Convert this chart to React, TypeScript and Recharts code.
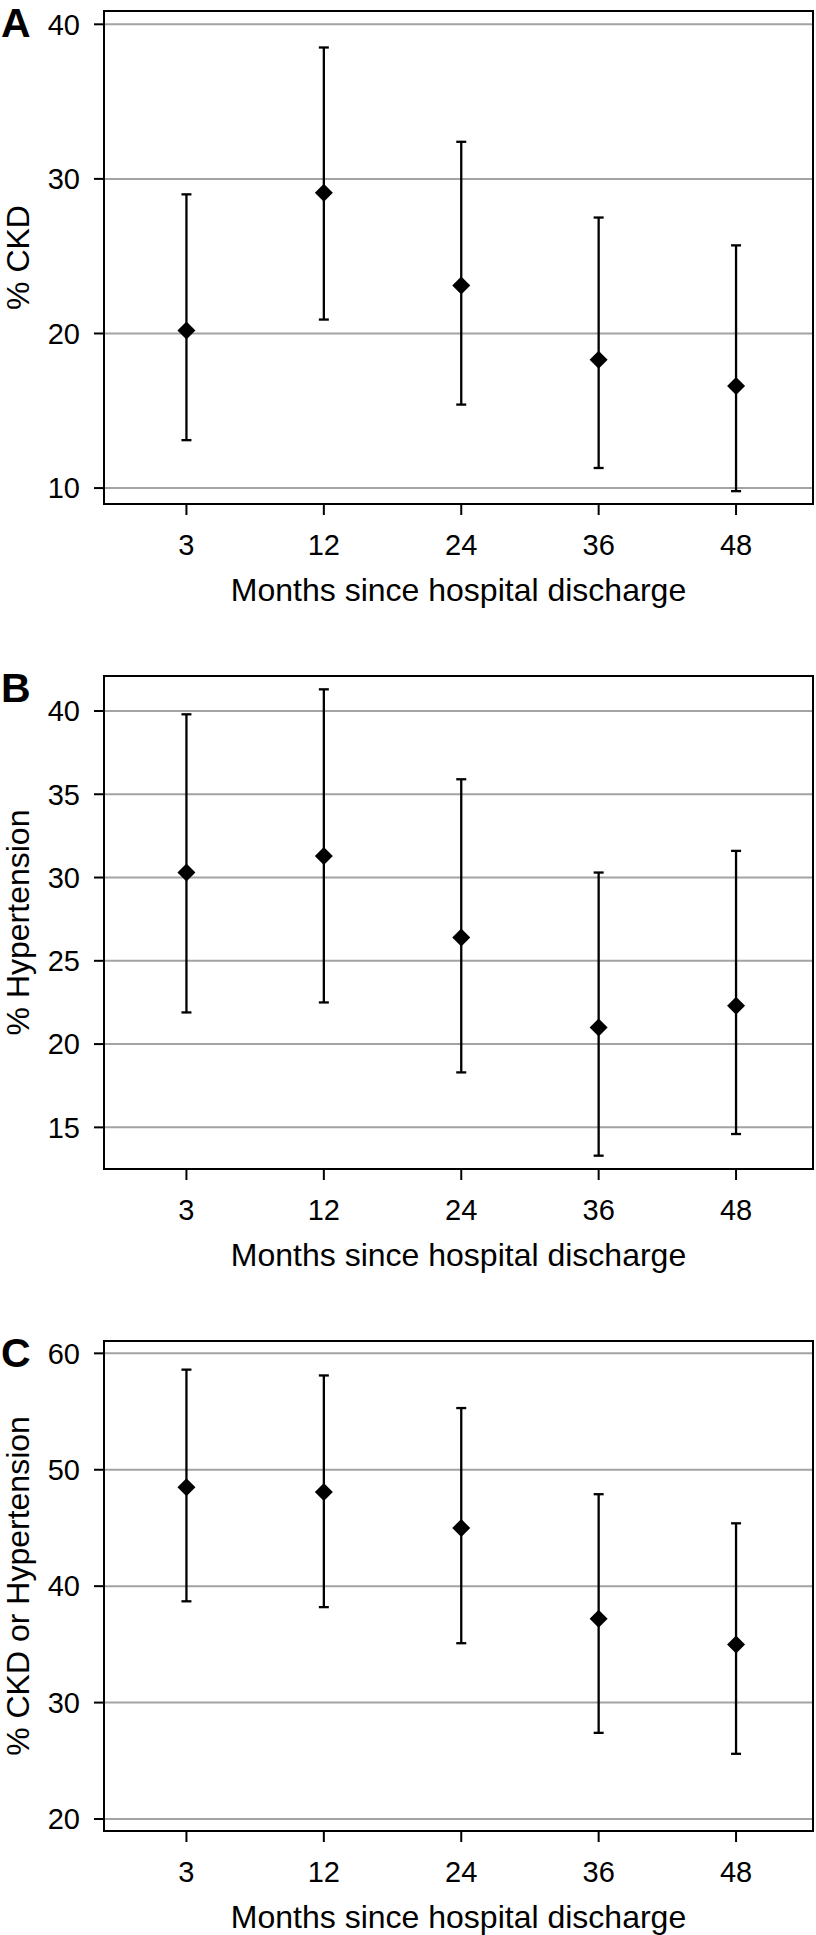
import React from 'react';
import {
  ComposedChart,
  Scatter,
  ErrorBar,
  XAxis,
  YAxis,
  CartesianGrid,
  ReferenceArea,
} from 'recharts';

const months = ['3', '12', '24', '36', '48'];

// panel A: % CKD
const ckdEst = [20.2, 29.1, 23.1, 18.3, 16.6];
const ckdLow = [13.1, 20.9, 15.4, 11.3, 9.8];
const ckdHigh = [29.0, 38.5, 32.4, 27.5, 25.7];
const ckdTicks = [10, 20, 30, 40];

// panel B: % Hypertension
const htnEst = [30.3, 31.3, 26.4, 21.0, 22.3];
const htnLow = [21.9, 22.5, 18.3, 13.3, 14.6];
const htnHigh = [39.8, 41.3, 35.9, 30.3, 31.6];
const htnTicks = [15, 20, 25, 30, 35, 40];

// panel C: % CKD or Hypertension
const anyEst = [48.5, 48.1, 45.0, 37.2, 35.0];
const anyLow = [38.7, 38.2, 35.1, 27.4, 25.6];
const anyHigh = [58.6, 58.1, 55.3, 47.9, 45.4];
const anyTicks = [20, 30, 40, 50, 60];

const FONT = '"Liberation Sans", Arial, Helvetica, sans-serif';
const X_DOMAIN: [number, number] = [-0.6, 4.56];

function buildRows(est: number[], low: number[], high: number[]) {
  return est.map((v, i) => ({
    idx: i,
    est: v,
    err: [v - low[i], high[i] - v],
  }));
}

const Diamond = (props: any) => {
  const { cx, cy } = props;
  if (cx == null || cy == null) return null;
  const r = 9;
  return (
    <polygon
      points={`${cx},${cy - r} ${cx + r},${cy} ${cx},${cy + r} ${cx - r},${cy}`}
      fill="#000"
    />
  );
};

interface PanelProps {
  top: number;
  height: number;
  plotH: number;
  letter: string;
  yLabel: string;
  yDomain: [number, number];
  yTicks: number[];
  est: number[];
  low: number[];
  high: number[];
}

function Panel({ top, height, plotH, letter, yLabel, yDomain, yTicks, est, low, high }: PanelProps) {
  const rows = buildRows(est, low, high);
  const axisH = 100;
  const marginTop = 11;
  const marginBottom = height - marginTop - axisH - plotH;
  return (
    <div style={{ position: 'absolute', left: 0, top, width: 816, height }}>
      <ComposedChart
        width={816}
        height={height}
        data={rows}
        margin={{ top: marginTop, right: 3, bottom: marginBottom, left: 0 }}
        style={{ fontFamily: FONT }}
      >
        <CartesianGrid horizontal vertical={false} stroke="#a3a3a3" strokeWidth={2} />
        <XAxis
          type="number"
          dataKey="idx"
          domain={X_DOMAIN}
          ticks={[0, 1, 2, 3, 4]}
          allowDataOverflow
          tickFormatter={(i: number) => months[i]}
          height={axisH}
          axisLine={false}
          tickLine={{ stroke: '#000', strokeWidth: 2 }}
          tickSize={11}
          tickMargin={19}
          tick={{ fill: '#000', fontSize: 29, fontFamily: FONT }}
          label={{
            value: 'Months since hospital discharge',
            position: 'insideBottom',
            offset: 3,
            fill: '#000',
            fontSize: 32,
            fontFamily: FONT,
          }}
        />
        <YAxis
          type="number"
          dataKey="est"
          domain={yDomain}
          ticks={yTicks}
          allowDataOverflow
          width={104}
          axisLine={false}
          tickLine={{ stroke: '#000', strokeWidth: 2 }}
          tickSize={10}
          tickMargin={14}
          tick={{ fill: '#000', fontSize: 29, fontFamily: FONT }}
          label={{
            value: yLabel,
            angle: -90,
            position: 'insideLeft',
            offset: 18,
            fill: '#000',
            fontSize: 32,
            fontFamily: FONT,
            style: { textAnchor: 'middle' },
          }}
        />
        <ReferenceArea
          x1={X_DOMAIN[0]}
          x2={X_DOMAIN[1]}
          y1={yDomain[0]}
          y2={yDomain[1]}
          fill="none"
          fillOpacity={0}
          stroke="#000"
          strokeWidth={2}
          ifOverflow="visible"
        />
        <Scatter dataKey="est" shape={Diamond} isAnimationActive={false}>
          <ErrorBar
            dataKey="err"
            direction="y"
            width={5}
            stroke="#000"
            strokeWidth={2.3}
            isAnimationActive={false}
          />
        </Scatter>
      </ComposedChart>
      <svg
        width={60}
        height={60}
        style={{ position: 'absolute', left: 0, top: 0, pointerEvents: 'none' }}
      >
        <text x={1} y={37} fontFamily={FONT} fontWeight="bold" fontSize={41} fill="#000">
          {letter}
        </text>
      </svg>
    </div>
  );
}

export default function App() {
  return (
    <div style={{ position: 'relative', width: 816, height: 1935 }}>
      <style>{'body { margin: 0; }'}</style>
      <Panel
        top={0}
        height={665}
        plotH={493}
        letter="A"
        yLabel="% CKD"
        yDomain={[8.97, 40.86]}
        yTicks={ckdTicks}
        est={ckdEst}
        low={ckdLow}
        high={ckdHigh}
      />
      <Panel
        top={665}
        height={665}
        plotH={493}
        letter="B"
        yLabel="% Hypertension"
        yDomain={[12.5, 42.1]}
        yTicks={htnTicks}
        est={htnEst}
        low={htnLow}
        high={htnHigh}
      />
      <Panel
        top={1330}
        height={605}
        plotH={490}
        letter="C"
        yLabel="% CKD or Hypertension"
        yDomain={[18.97, 61.06]}
        yTicks={anyTicks}
        est={anyEst}
        low={anyLow}
        high={anyHigh}
      />
    </div>
  );
}
